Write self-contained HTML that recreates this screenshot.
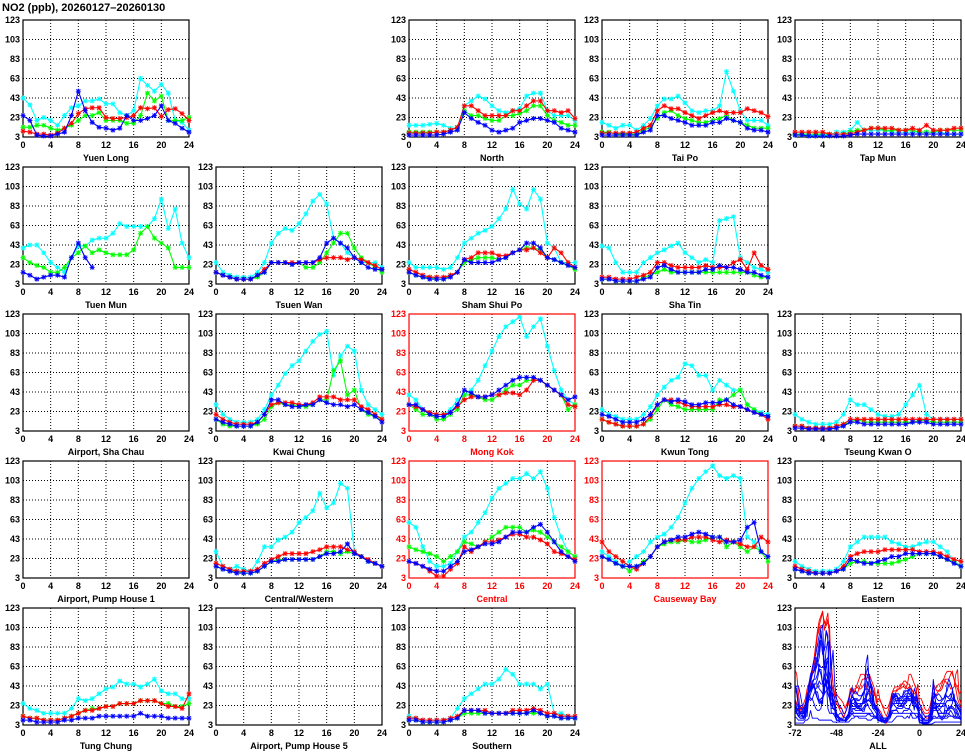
<!DOCTYPE html>
<html><head><meta charset="utf-8"><style>
html,body{margin:0;padding:0;background:#fff;}
svg{display:block;font-family:"Liberation Sans",sans-serif;}
</style></head><body>
<svg id="c" width="965" height="755" viewBox="0 0 965 755" xmlns="http://www.w3.org/2000/svg">
<text x="2" y="11" font-size="11" font-weight="bold">NO2 (ppb), 20260127–20260130</text>
</svg>
<script>
const N = null;
const stationNames = ["Yuen Long","","North","Tai Po","Tap Mun",
"Tuen Mun","Tsuen Wan","Sham Shui Po","Sha Tin","",
"Airport, Sha Chau","Kwai Chung","Mong Kok","Kwun Tong","Tseung Kwan O",
"Airport, Pump House 1","Central/Western","Central","Causeway Bay","Eastern",
"Tung Chung","Airport, Pump House 5","Southern","","ALL"];
const roadside = ["Mong Kok","Central","Causeway Bay"];
const yTicks = [3,23,43,63,83,103,123];
const xTicks = [0,4,8,12,16,20,24];
const allXTicks = [-72,-48,-24,0,24];
const E = Array(25).fill(N);
const seriesCyan = {
"Yuen Long":[43,36,20,23,20,15,25,33,35,40,40,42,37,37,28,25,30,63,56,50,57,48,20,18,10],
"North":[15,15,15,16,17,15,12,12,35,40,45,42,35,30,28,30,32,45,48,48,30,25,25,25,20],
"Tai Po":[18,15,12,15,15,10,15,22,35,42,42,45,38,30,28,30,30,35,70,50,30,20,20,20,15],
"Tap Mun":[5,5,5,5,5,5,8,8,10,18,10,10,10,10,8,8,8,8,8,8,8,8,6,6,6],
"Tuen Mun":[40,43,43,35,25,20,15,30,42,42,48,50,50,55,65,62,62,62,62,70,90,60,80,45,30],
"Tsuen Wan":[25,15,12,10,10,10,15,25,45,55,60,58,65,75,88,95,85,50,45,35,30,25,25,25,20],
"Sham Shui Po":[25,20,20,20,20,18,20,30,45,50,55,58,62,70,80,100,85,80,100,90,45,40,25,25,25],
"Sha Tin":[42,40,25,15,15,15,25,30,35,38,42,45,35,30,25,28,25,68,70,72,30,25,20,18,15],
"Kwai Chung":[30,20,15,12,12,12,15,25,40,50,62,70,75,85,95,102,105,60,80,90,85,45,30,25,20],
"Mong Kok":[40,35,25,22,20,20,25,35,40,45,55,70,85,100,110,115,120,100,110,118,90,65,45,35,30],
"Kwun Tong":[25,20,18,15,15,15,20,28,40,48,55,58,72,70,60,60,45,55,50,45,45,30,25,22,20],
"Tseung Kwan O":[20,15,12,10,10,10,12,20,35,30,30,25,20,18,18,20,30,40,50,20,15,15,15,15,15],
"Central/Western":[30,15,12,15,12,10,20,35,35,42,45,50,60,65,72,90,75,80,100,95,30,25,20,18,15],
"Central":[60,55,35,20,15,15,18,30,45,50,60,70,85,95,100,105,105,110,105,112,95,65,45,30,25],
"Causeway Bay":[30,25,20,15,20,25,30,40,45,48,55,65,80,95,105,112,118,108,105,108,105,45,40,30,25],
"Eastern":[20,15,12,10,10,10,12,20,35,40,45,45,45,45,40,38,35,35,38,40,40,35,30,20,15],
"Tung Chung":[25,20,18,15,15,15,15,20,30,28,30,35,40,42,48,45,45,42,45,50,38,35,35,30,30],
"Southern":[12,10,8,8,8,8,10,20,30,35,40,45,45,50,60,55,45,45,45,40,45,15,15,12,10]
};
const seriesGreen = {
"Yuen Long":[13,13,15,15,12,10,12,15,20,25,25,28,20,20,20,17,17,25,48,40,45,20,20,20,23],
"North":[8,8,8,8,8,8,10,13,30,25,25,22,20,20,25,25,27,30,35,35,25,20,18,15,15],
"Tai Po":[8,8,6,6,6,6,10,13,22,28,30,25,22,20,18,18,20,22,25,20,18,15,12,12,12],
"Tap Mun":[6,6,6,6,6,6,6,6,8,10,10,12,12,10,10,10,10,10,8,8,8,10,10,10,10],
"Tuen Mun":[30,25,22,20,15,15,20,30,35,42,35,38,35,33,33,33,38,55,62,50,45,40,20,20,20],
"Tsuen Wan":[15,12,10,8,8,8,10,15,25,25,25,23,25,20,20,25,35,45,55,55,40,30,25,20,15],
"Sham Shui Po":[15,12,10,10,8,8,12,15,25,28,30,30,30,28,30,35,38,40,40,38,30,28,25,22,18],
"Sha Tin":[8,8,6,6,6,6,10,12,15,18,15,15,15,15,15,15,15,15,15,15,15,15,12,10,10],
"Kwai Chung":[15,10,8,8,8,8,10,15,28,32,30,30,28,28,30,35,35,65,75,40,45,25,20,18,15],
"Mong Kok":[30,25,20,20,15,15,20,25,40,40,38,35,35,40,45,50,50,55,55,55,50,45,40,25,30],
"Kwun Tong":[15,12,10,8,8,8,10,15,25,35,30,28,25,25,25,25,25,35,35,40,45,30,25,20,18],
"Tseung Kwan O":[8,8,6,6,6,6,8,10,12,15,12,12,12,12,12,12,12,12,14,14,12,12,12,12,12],
"Central/Western":[15,12,10,10,8,8,10,15,20,22,22,22,22,22,22,25,30,30,28,30,28,25,20,18,15],
"Central":[35,32,30,28,25,20,25,30,40,38,35,40,45,50,55,55,55,50,52,50,45,40,35,30,25],
"Causeway Bay":[25,22,18,15,10,15,20,25,35,38,40,40,42,40,40,42,45,45,35,40,35,30,35,30,20],
"Eastern":[12,10,8,8,8,8,10,12,18,20,20,18,18,18,18,20,22,25,28,28,28,25,22,20,15],
"Tung Chung":[12,10,10,8,8,8,10,12,15,18,20,20,22,22,25,25,25,28,28,28,25,25,22,22,25],
"Southern":[8,8,6,6,6,6,8,10,15,15,15,15,15,15,15,15,15,15,15,15,12,12,10,10,10]
};
const seriesRed = {
"Yuen Long":[9,8,6,6,5,7,12,17,27,32,33,33,23,22,22,23,25,33,32,33,24,31,32,27,20],
"North":[7,7,7,7,8,8,10,13,35,35,30,25,25,25,25,30,30,35,40,40,30,30,28,30,22],
"Tai Po":[7,7,7,7,7,8,12,15,30,35,32,32,28,25,22,25,28,30,28,28,28,32,30,28,24],
"Tap Mun":[8,8,8,8,8,6,6,6,6,8,10,12,12,12,12,10,10,12,10,15,10,10,10,12,12],
"Tuen Mun":E,
"Tsuen Wan":[15,12,10,8,8,8,12,18,25,25,25,25,25,25,25,28,30,30,30,28,30,28,25,22,18],
"Sham Shui Po":[18,15,12,10,10,10,12,15,28,30,35,35,35,32,32,35,38,38,40,35,30,40,35,25,20],
"Sha Tin":[10,10,8,8,8,10,12,15,25,25,22,20,20,20,20,22,20,20,20,25,28,18,35,22,18],
"Kwai Chung":[20,15,12,10,10,10,12,20,30,32,32,32,30,30,32,38,38,38,35,35,35,28,25,20,15],
"Mong Kok":[30,28,25,22,20,20,22,28,35,38,38,38,40,40,42,42,40,45,55,55,50,45,40,30,28],
"Kwun Tong":[15,12,10,8,8,8,10,18,30,35,35,33,30,28,28,28,28,30,30,28,28,25,22,20,15],
"Tseung Kwan O":[8,8,6,6,6,6,8,10,15,15,15,15,15,15,15,15,15,15,15,15,15,15,15,15,15],
"Central/Western":[18,15,12,10,10,10,12,18,22,25,28,28,28,28,30,32,35,35,35,32,30,25,22,18,15],
"Central":[20,18,15,10,5,5,12,18,35,30,35,40,40,42,45,48,48,45,45,42,38,30,28,25,22],
"Causeway Bay":[40,30,25,20,15,12,18,25,35,40,42,42,42,45,45,45,42,40,42,40,38,35,35,45,40],
"Eastern":[15,12,10,8,8,8,10,15,25,28,30,30,30,32,32,32,32,32,30,30,30,28,25,22,20],
"Tung Chung":[12,10,10,8,8,8,10,12,15,18,18,20,22,22,25,25,25,28,28,28,25,22,22,20,35],
"Southern":[10,10,8,8,8,8,10,12,18,18,18,18,15,15,15,18,18,18,20,18,15,15,12,12,12]
};
const seriesBlue = {
"Yuen Long":[25,20,5,4,4,6,8,25,50,30,18,13,12,10,12,25,20,20,22,25,35,20,17,12,8],
"North":[5,5,5,5,5,6,8,10,28,22,18,15,10,8,10,12,18,20,22,22,20,18,12,10,8],
"Tai Po":[5,5,5,5,5,5,8,10,25,25,22,20,18,15,15,15,18,18,22,20,18,12,10,10,8],
"Tap Mun":[5,5,4,4,4,4,4,4,5,6,6,6,6,6,6,6,6,6,6,6,6,6,6,6,6],
"Tuen Mun":[15,12,8,10,12,12,10,30,45,30,20,N,N,N,N,N,N,N,N,N,N,N,N,N,N],
"Tsuen Wan":[15,12,10,8,8,8,12,15,25,25,25,23,25,25,25,30,45,50,45,40,30,25,20,18,18],
"Sham Shui Po":[15,12,10,8,8,8,10,15,28,25,25,25,25,28,30,35,38,45,45,40,30,28,25,22,20],
"Sha Tin":[8,8,6,6,6,6,8,10,20,22,18,15,15,15,15,18,18,22,20,20,18,15,15,12,10],
"Kwai Chung":[15,12,10,8,8,8,12,20,35,35,30,28,28,30,30,35,32,30,30,28,30,25,22,18,12],
"Mong Kok":[30,30,25,20,18,18,22,30,45,42,38,38,40,45,50,55,58,58,58,55,50,45,40,35,38],
"Kwun Tong":[20,18,15,12,12,12,15,20,30,35,33,35,33,30,30,32,32,32,35,30,28,25,22,20,18],
"Tseung Kwan O":[6,6,5,5,5,5,6,8,12,12,10,10,10,10,10,10,10,12,12,12,10,10,10,10,10],
"Central/Western":[15,12,10,8,8,8,10,15,20,20,22,22,22,22,22,25,28,28,30,38,28,25,20,18,15],
"Central":[20,18,15,12,10,10,15,20,30,32,35,38,38,40,45,50,50,50,55,58,50,40,30,25,20],
"Causeway Bay":[25,22,18,15,15,15,18,25,35,40,42,45,45,48,50,48,45,45,40,40,42,55,60,30,25],
"Eastern":[12,10,8,8,8,8,10,12,22,20,18,18,20,22,25,25,28,28,28,28,28,25,22,18,15],
"Tung Chung":[8,8,6,6,6,6,8,8,10,10,10,12,12,12,12,12,12,15,12,12,12,10,10,10,10],
"Southern":[8,8,6,6,6,6,8,10,18,18,18,15,15,15,15,15,15,15,18,15,12,12,10,10,10]
};

const svg = document.getElementById('c');
const NS = "http://www.w3.org/2000/svg";
function mk(tag, attrs, parent){
  const e = document.createElementNS(NS, tag);
  for (const k in attrs) e.setAttribute(k, attrs[k]);
  (parent||svg).appendChild(e);
  return e;
}
const PW = 166, PH = 117;
function yScale(y0, v){ return y0 + PH - (v - 3) / 120 * PH; }

function drawFrame(g, x0, y0, col, xt, xmin, xmax){
  const xs = v => x0 + (v - xmin) / (xmax - xmin) * PW;
  yTicks.forEach(t => {
    const y = yScale(y0, t);
    if (t > 3 && t < 123) mk('line',{x1:x0,x2:x0+PW,y1:y,y2:y,stroke:'#000','stroke-width':1,'stroke-dasharray':'1,2'},g);
    const tx = mk('text',{x:x0-3,y:y+3,'font-size':9,'font-weight':'bold','text-anchor':'end',fill:col},g);
    tx.textContent = t;
    
    
  });
  xt.forEach(t => {
    const x = xs(t);
    if (t > xmin && t < xmax) mk('line',{x1:x,x2:x,y1:y0,y2:y0+PH,stroke:'#000','stroke-width':1,'stroke-dasharray':'1,2'},g);
    const tx = mk('text',{x:x,y:y0+PH+11,'font-size':9,'font-weight':'bold','text-anchor':'middle',fill:col},g);
    tx.textContent = t;
    
    
  });
  const r = mk('rect',{x:x0,y:y0,width:PW,height:PH,fill:'none',stroke:col,'stroke-width':1.2},g);
  
  
  return xs;
}
function drawSeries(g, vals, xs, y0, color, marker, offset){
  let segs = [], cur = [];
  vals.forEach((v,i) => {
    if (v === null) { if (cur.length) segs.push(cur); cur = []; return; }
    cur.push([xs(i + offset), yScale(y0, Math.min(123, v))]);
  });
  if (cur.length) segs.push(cur);
  segs.forEach(s => {
    const p = mk('polyline',{points:s.map(q=>q.join(',')).join(' '),fill:'none',stroke:color,'stroke-width':marker?1.1:0.9},g);
    
    
    if (marker) s.forEach(([x,y]) => {
      const m = mk('path',{d:`M${x-2.5},${y}H${x+2.5}M${x},${y-2.5}V${y+2.5}M${x-2},${y-2}L${x+2},${y+2}M${x-2},${y+2}L${x+2},${y-2}`,stroke:color,'stroke-width':0.9},g);
      
      
    });
  });
}

stationNames.forEach((name, idx) => {
  if (!name) return;
  const row = Math.floor(idx/5), colI = idx%5;
  const x0 = 23 + colI*193, y0 = 20 + row*147;
  const g = mk('g',{});
  
  
  const isRoad = roadside.includes(name);
  const col = isRoad ? '#f00' : '#000';
  if (name === 'ALL') {
    const xs = drawFrame(g, x0, y0, '#000', allXTicks, -72, 24);
    const order = Object.keys(seriesCyan).sort((a,b)=> (roadside.includes(b)?1:0)-(roadside.includes(a)?1:0));
    order.forEach(st => {
      const vals = [].concat(seriesCyan[st].slice(0,24), seriesGreen[st].slice(0,24), seriesRed[st].slice(0,24), seriesBlue[st]);
      drawSeries(g, vals, xs, y0, roadside.includes(st)?'#f00':'#00f', false, -72);
    });
  } else {
    const xs = drawFrame(g, x0, y0, col, xTicks, 0, 24);
    if (seriesCyan[name]) {
      drawSeries(g, seriesCyan[name], xs, y0, '#0ff', true, 0);
      drawSeries(g, seriesGreen[name], xs, y0, '#0f0', true, 0);
      drawSeries(g, seriesRed[name], xs, y0, '#f00', true, 0);
      drawSeries(g, seriesBlue[name], xs, y0, '#00f', true, 0);
    }
  }
  const t = mk('text',{x:x0+PW/2,y:y0+PH+24,'font-size':9,'font-weight':'bold','text-anchor':'middle',fill:col},g);
  t.textContent = name;
  
  
});
</script>
</body></html>
